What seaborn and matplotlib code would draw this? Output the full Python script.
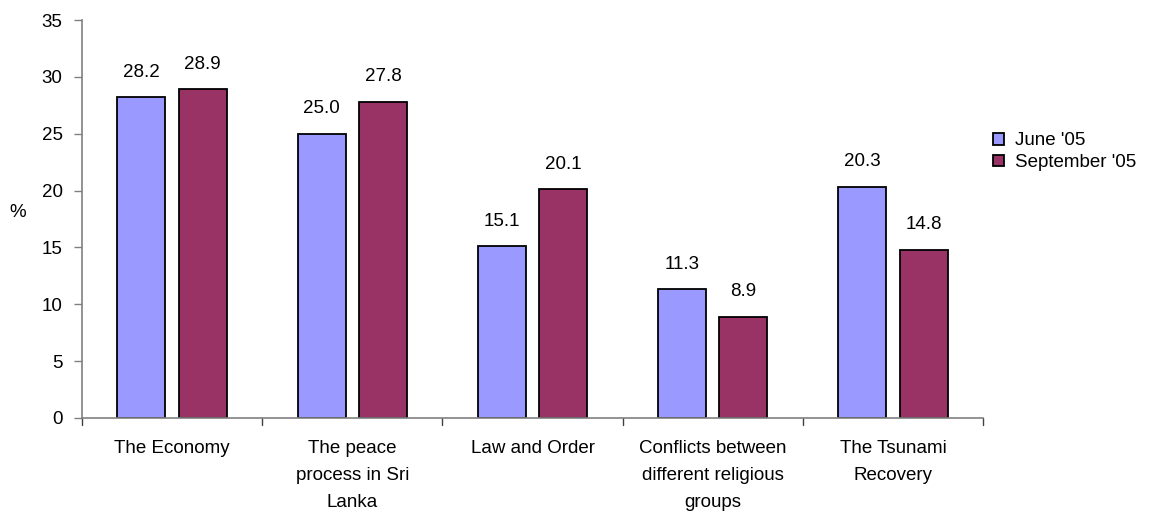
import matplotlib
matplotlib.use("Agg")
import matplotlib.pyplot as plt
import seaborn as sns
import pandas as pd
import numpy as np

categories = ["The Economy", "The peace\nprocess in Sri\nLanka", "Law and Order",
              "Conflicts between\ndifferent religious\ngroups", "The Tsunami\nRecovery"]
series_names = ["June '05", "September '05"]
june = [28.2, 25.0, 15.1, 11.3, 20.3]
september = [28.9, 27.8, 20.1, 8.9, 14.8]
yticks = [0, 5, 10, 15, 20, 25, 30, 35]

sns.set_theme(style="white", rc={"text.color": "black", "xtick.color": "black",
                                 "ytick.color": "black", "axes.labelcolor": "black"})
plt.rcParams['font.family'] = ['Liberation Sans', 'DejaVu Sans']

df = pd.DataFrame({
    "category": categories * 2,
    "series": [series_names[0]] * 5 + [series_names[1]] * 5,
    "value": june + september,
})

FS = 13.5

fig = plt.figure(figsize=(11.53, 5.16), dpi=100)
ax = fig.add_axes([0.0711, 0.19, 0.7815, 0.7712])

palette = {series_names[0]: "#9999FF", series_names[1]: "#993366"}
sns.barplot(data=df, x="category", y="value", hue="series", palette=palette,
            order=categories, hue_order=series_names, width=0.68, gap=0.215,
            edgecolor="black", linewidth=1.3, saturation=1, ax=ax, legend=True)

for cont in ax.containers:
    ax.bar_label(cont, fmt="%.1f", padding=12, fontsize=FS, color="black")

ax.set_ylim(0, 35)
ax.set_xlim(-0.5, len(categories) - 0.5)
ax.set_yticks(yticks)
ax.set_yticklabels([str(t) for t in yticks], fontsize=FS)
ax.set_xticks(range(len(categories)))
ax.set_xticklabels(categories, fontsize=FS, linespacing=1.75)
ax.tick_params(axis="x", length=0, pad=16, labelcolor="black")
ax.tick_params(axis="y", length=6, width=1, color="#808080", left=True, pad=8,
               labelcolor="black")
# category separators on x-axis
for b in np.arange(-0.5, len(categories) + 0.5, 1.0):
    ax.plot([b, b], [0, -0.018], transform=ax.get_xaxis_transform(), color="#404040",
            lw=1, clip_on=False)

for s in ["top", "right"]:
    ax.spines[s].set_visible(False)
for s in ["left", "bottom"]:
    ax.spines[s].set_color("#808080")
    ax.spines[s].set_linewidth(1.2)

ax.set_xlabel("")
ax.set_ylabel("")
fig.text(18 / 1153, 1 - 212 / 516, "%", fontsize=FS, ha="center", va="center",
         color="black")

leg = ax.legend(loc="upper left", bbox_to_anchor=(1.011, 0.7175), frameon=False,
                fontsize=FS, handlelength=0.6, handleheight=0.6, handletextpad=0.6,
                labelspacing=0.25, borderpad=0, borderaxespad=0, labelcolor="black")

fig.savefig("out.png", dpi=100)
